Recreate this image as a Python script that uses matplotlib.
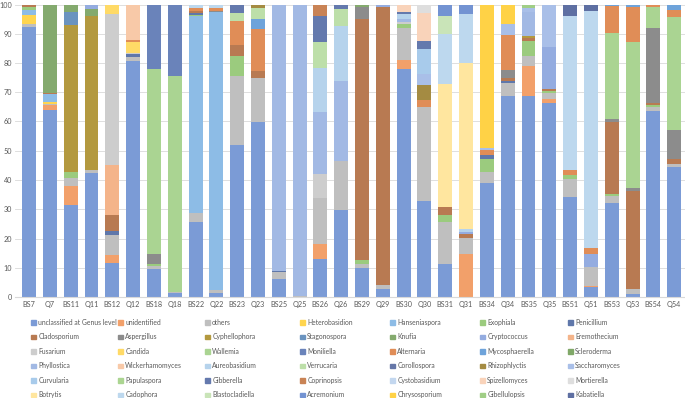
import pandas as pd
import matplotlib.pyplot as plt
from matplotlib.patches import Patch

# genera in stacking / legend order
genera = ["unclassified at Genus level", "unidentified", "others", "Heterobasidion",
          "Hanseniaspora", "Exophiala", "Penicillium",
          "Cladosporium", "Aspergillus", "Cyphellophora", "Stagonospora", "Knufia",
          "Cryptococcus", "Eremothecium",
          "Fusarium", "Candida", "Wallemia", "Moniliella", "Alternaria",
          "Mycosphaerella", "Scleroderma",
          "Phyllostica", "Wickerhamomyces", "Aureobasidium", "Verrucaria",
          "Corollospora", "Rhizophlyctis", "Saccharomyces",
          "Curvularia", "Papulaspora", "Gibberella", "Coprinopsis", "Cystobasidium",
          "Spizellomyces", "Mortierella",
          "Botrytis", "Cadophora", "Blastocladiella", "Acremonium", "Chrysosporium",
          "Gibellulopsis", "Kabatiella"]

samples = ["BS7", "Q7", "BS11", "Q11", "BS12", "Q12", "BS18", "Q18", "BS22", "Q22",
           "BS23", "Q23", "BS25", "Q25", "BS26", "Q26", "BS29", "Q29", "BS30", "Q30",
           "BS31", "Q31", "BS34", "Q34", "BS35", "Q35", "BS51", "Q51", "BS53", "Q53",
           "BS54", "Q54"]

U = "unclassified at Genus level"

# relative abundance (%) per sample
bs7 = {U: 92.2, "others": 1.1, "Heterobasidion": 3.0, "Hanseniaspora": 1.9, "Exophiala": 0.8, "Cladosporium": 1.0}
q7 = {U: 63.8, "unidentified": 1.8, "others": 0.5, "Heterobasidion": 0.7, "Hanseniaspora": 2.6,
      "Cladosporium": 0.5, "Knufia": 30.1}
bs11 = {U: 31.4, "unidentified": 6.4, "others": 2.8, "Exophiala": 2.1, "Cyphellophora": 50.2,
        "Stagonospora": 4.7, "Knufia": 2.1, "Cryptococcus": 0.3}
q11 = {U: 42.5, "others": 0.9, "Cyphellophora": 52.5, "Knufia": 2.6, "Cryptococcus": 1.5}
bs12 = {U: 11.5, "unidentified": 2.7, "others": 7.0, "Penicillium": 1.2, "Cladosporium": 5.7,
        "Eremothecium": 17.0, "Fusarium": 51.8, "Candida": 3.1}
q12 = {U: 80.8, "others": 1.3, "Penicillium": 0.9, "Fusarium": 0.4, "Candida": 3.8,
       "Alternaria": 0.5, "Wickerhamomyces": 12.3}
bs18 = {U: 9.6, "others": 1.1, "Exophiala": 0.5, "Aspergillus": 3.4, "Wallemia": 63.3,
        "Moniliella": 21.8, "Wickerhamomyces": 0.3}
q18 = {U: 1.2, "others": 0.6, "Wallemia": 73.6, "Moniliella": 24.4, "Alternaria": 0.2}
bs22 = {U: 25.7, "others": 3.0, "Hanseniaspora": 67.2, "Exophiala": 0.6, "Penicillium": 0.5,
        "Cladosporium": 0.9, "Alternaria": 0.8, "Cadophora": 1.3}
q22 = {U: 1.4, "others": 1.0, "Hanseniaspora": 95.2, "Aspergillus": 0.3, "Alternaria": 0.8, "Cadophora": 1.3}
bs23 = {U: 51.9, "others": 23.5, "Exophiala": 7.0, "Cladosporium": 3.8, "Alternaria": 8.1,
        "Verrucaria": 2.9, "Gibberella": 2.8}
q23 = {U: 59.7, "others": 15.3, "Cladosporium": 2.4, "Alternaria": 14.1, "Mycosphaerella": 3.7,
       "Verrucaria": 3.7, "Rhizophlyctis": 1.1}
bs25 = {U: 6.0, "others": 2.4, "Exophiala": 0.3, "Penicillium": 0.3, "Phyllostica": 91.0}
q25 = {"others": 0.3, "Phyllostica": 99.7}
bs26 = {U: 12.9, "unidentified": 5.1, "others": 15.9, "Fusarium": 8.1, "Phyllostica": 21.1,
        "Aureobasidium": 15.1, "Verrucaria": 8.9, "Gibberella": 9.0, "Coprinopsis": 3.9}
q26 = {U: 29.9, "others": 16.5, "Phyllostica": 27.6, "Aureobasidium": 18.7, "Verrucaria": 5.7, "Gibberella": 1.6}
bs29 = {U: 9.8, "others": 1.6, "Exophiala": 1.1, "Penicillium": 0.3, "Cladosporium": 82.1,
        "Aspergillus": 4.3, "Knufia": 0.8}
q29 = {U: 2.8, "others": 1.3, "Cladosporium": 95.1, "Cryptococcus": 0.8}
bs30 = {U: 78.1, "unidentified": 3.0, "others": 10.8, "Exophiala": 1.3, "Fusarium": 0.8,
        "Phyllostica": 1.1, "Aureobasidium": 1.5, "Gibberella": 0.9, "Spizellomyces": 2.5}
q30 = {U: 32.7, "others": 32.3, "Alternaria": 2.3, "Rhizophlyctis": 5.2, "Saccharomyces": 3.7,
       "Curvularia": 8.5, "Gibberella": 2.9, "Spizellomyces": 9.6, "Mortierella": 2.8}
bs31 = {U: 11.4, "others": 14.3, "Exophiala": 2.3, "Cladosporium": 2.8, "Botrytis": 42.0,
        "Cadophora": 17.0, "Blastocladiella": 6.3, "Acremonium": 3.9}
q31 = {"unidentified": 14.6, "others": 5.5, "Cladosporium": 1.4, "Cryptococcus": 0.8,
       "Aureobasidium": 1.1, "Botrytis": 56.5, "Cadophora": 16.7, "Acremonium": 3.4}
bs34 = {U: 39.0, "others": 3.7, "Exophiala": 4.5, "Penicillium": 1.2, "Alternaria": 1.7,
        "Saccharomyces": 0.9, "Chrysosporium": 49.0}
q34 = {U: 68.6, "others": 4.5, "Penicillium": 0.8, "Cladosporium": 1.1, "Aspergillus": 2.6,
       "Alternaria": 12.0, "Saccharomyces": 3.6, "Chrysosporium": 6.8}
bs35 = {U: 68.7, "unidentified": 10.3, "others": 3.5, "Exophiala": 5.0, "Cladosporium": 1.1,
        "Cyphellophora": 0.5, "Phyllostica": 8.2, "Saccharomyces": 1.6, "Gibellulopsis": 1.1}
q35 = {U: 66.3, "unidentified": 1.3, "others": 2.1, "Exophiala": 0.8, "Cladosporium": 0.7,
       "Cryptococcus": 14.4, "Saccharomyces": 14.4}
bs51 = {U: 34.2, "others": 6.0, "Exophiala": 1.5, "Alternaria": 1.7, "Cadophora": 52.7, "Kabatiella": 3.9}
q51 = {U: 3.3, "unidentified": 0.3, "others": 6.8, "Cryptococcus": 4.2, "Alternaria": 2.3,
       "Cadophora": 80.9, "Kabatiella": 2.2}
bs53 = {U: 32.2, "others": 2.3, "Exophiala": 0.7, "Cladosporium": 24.6, "Aspergillus": 1.2,
        "Wallemia": 29.4, "Alternaria": 9.1, "Mycosphaerella": 0.5}
q53 = {U: 1.0, "others": 1.6, "Cladosporium": 33.8, "Aspergillus": 0.7, "Wallemia": 50.2,
       "Alternaria": 11.9, "Mycosphaerella": 0.8}
bs54 = {U: 63.7, "others": 1.1, "Exophiala": 0.9, "Cladosporium": 0.6, "Aspergillus": 25.8,
        "Wallemia": 6.9, "Alternaria": 1.0}
q54 = {U: 44.5, "others": 1.1, "Cladosporium": 1.5, "Aspergillus": 9.9, "Wallemia": 38.6,
       "Alternaria": 2.5, "Mycosphaerella": 1.9}

rows = [bs7, q7, bs11, q11, bs12, q12, bs18, q18, bs22, q22, bs23, q23, bs25, q25, bs26, q26,
        bs29, q29, bs30, q30, bs31, q31, bs34, q34, bs35, q35, bs51, q51, bs53, q53, bs54, q54]

colors = ["#7B9BD6", "#F2A06A", "#BFBFBF", "#FFD54F", "#8DBCE6", "#9BCB7E", "#5F77AA",
          "#B87A52", "#8C8C8C", "#B3993F", "#6A93BF", "#84AA6E", "#94ACE0", "#F4B48A",
          "#CDCDCD", "#FFDA66", "#AAD492", "#6A83BA", "#E08D57", "#6EA3DA", "#80A868",
          "#A2B9E4", "#F8C9A8", "#B6D3EC", "#BDDFA9", "#6677A8", "#A48B42", "#A9BFE8",
          "#A8CBEB", "#ABD591", "#6479AD", "#C98355", "#C3D7EF", "#F9D3BA", "#DEDEDE",
          "#FFE69F", "#BDD8EE", "#C9E4B8", "#7393D2", "#FFD246", "#A0CE86", "#5E6FA2"]

df = pd.DataFrame(rows, index=samples).reindex(columns=genera).fillna(0)

plt.rcParams['font.family'] = ['Lato', 'DejaVu Sans']

fig = plt.figure(figsize=(6.85, 3.98), dpi=100)
ax = fig.add_axes([14.5/685, 101/398, 670.5/685, 292.5/398])

x = range(len(samples))
bottom = [0.0] * len(samples)
for g, c in zip(genera, colors):
    vals = df[g].values
    ax.bar(x, vals, bottom=bottom, width=0.67, color=c, linewidth=0, zorder=2)
    bottom = [b + v for b, v in zip(bottom, vals)]

ax.set_xlim(-0.70, 31.52)
ax.set_ylim(0, 100)
ax.set_yticks(range(0, 101, 10))
ax.set_xticks(list(x))
ax.set_xticklabels(samples)
ax.grid(axis='y', color='#D9D9D9', linewidth=0.6, zorder=0)
for s in ['top', 'right', 'left']:
    ax.spines[s].set_visible(False)
ax.spines['bottom'].set_color('#D9D9D9')
ax.tick_params(length=0, labelsize=5.2, colors='#595959')
ax.tick_params(axis='x', pad=3.2)
ax.tick_params(axis='y', pad=1.5)

# legend laid out as 7 fixed-width columns
col_x = [31, 118, 205, 300, 390, 480, 568]
for ci in range(7):
    idx = list(range(ci, len(genera), 7))
    handles = [Patch(color=colors[i]) for i in idx]
    labels = [genera[i] for i in idx]
    fig.legend(handles, labels, loc='upper left', bbox_to_anchor=(col_x[ci]/685, 1 - 319/398),
               frameon=False, fontsize=4.9, handlelength=0.7, handleheight=0.7,
               handletextpad=0.35, labelspacing=1.1, borderpad=0, borderaxespad=0,
               labelcolor='#595959')

fig.savefig("out.png", dpi=100)
